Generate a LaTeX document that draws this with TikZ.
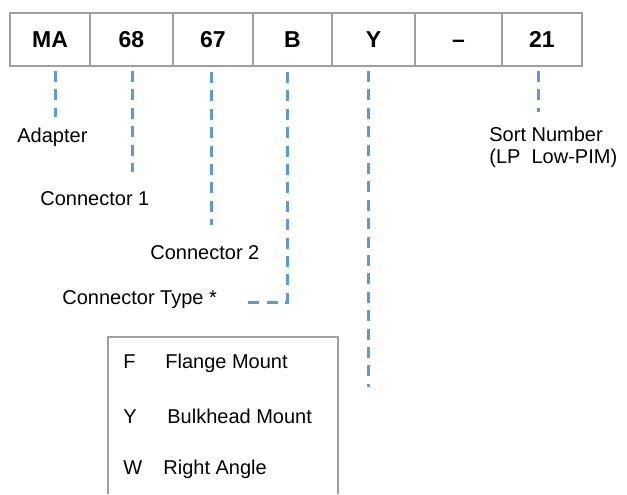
\documentclass[tikz,border=0pt]{standalone}
\usepackage{fontspec}
\setmainfont{Liberation Sans}
\usepackage{tikz}
\usetikzlibrary{matrix}

\definecolor{boxgray}{RGB}{160,160,160}
\definecolor{lineblue}{RGB}{91,155,213}

\tikzset{
  dashline/.style={draw=lineblue,line width=1.5pt,dash pattern=on 5.5pt off 3.7pt},
  lbl/.style={anchor=west,inner sep=0pt,text height=7.2pt,text depth=2pt,
              font=\fontsize{10}{12}\selectfont},
}

\begin{document}
\begin{tikzpicture}[x=0.5pt,y=-0.5pt]
  \useasboundingbox (0,0) rectangle (627,494);

  % part number boxes
  \matrix(P)[matrix of nodes,anchor=north west,inner sep=0pt,line width=1pt,
             row sep=-\pgflinewidth,column sep=-\pgflinewidth,
             nodes={rectangle,draw=boxgray,line width=1pt,anchor=center,inner sep=1pt,
                    text height=8.3pt,text depth=0pt,
                    minimum height=26.5pt,font=\bfseries\fontsize{11.5}{13}\selectfont},
             column 1/.style={minimum width=40pt},
             column 2/.style={minimum width=41.5pt},
             column 3/.style={minimum width=40pt},
             column 4/.style={minimum width=39.5pt},
             column 5/.style={minimum width=41.5pt},
             column 6/.style={minimum width=43.5pt},
             column 7/.style={minimum width=40pt},
            ] at (8,11)
  {
    MA & 68 & 67 & B & Y & \textendash & 21 \\
  };

  % line ends
  \coordinate (adapterEnd) at (55,117);
  \coordinate (conOneEnd) at (132,172);
  \coordinate (conTwoEnd) at (211,225);
  \coordinate (typeCorner) at (287,302);
  \coordinate (typeEnd) at (245,302);
  \coordinate (mountEnd) at (368,387);
  \coordinate (sortEnd) at (538,112);

  \draw[dashline] (P-1-1.south -| adapterEnd) ++(0,4) -- (adapterEnd);
  \draw[dashline] (P-1-2.south -| conOneEnd) ++(0,4) -- (conOneEnd);
  \draw[dashline] (P-1-3.south -| conTwoEnd) ++(0,5) -- (conTwoEnd);
  \draw[dashline] (P-1-4.south -| typeCorner) ++(0,5) -- (typeCorner) -- (typeEnd);
  \draw[dashline] (P-1-5.south -| mountEnd) ++(0,4) -- (mountEnd);
  \draw[dashline] (P-1-7.south -| sortEnd) ++(0,4) -- (sortEnd);

  % labels
  \node[lbl] (adapter) at (17,137) {Adapter};
  \node[lbl] (conOne) at (40,200) {Connector 1};
  \node[lbl] (conTwo) at (150,254) {Connector 2};
  \node[lbl] (conType) at (62,299) {Connector Type *};
  \node[lbl] (sortA) at (489,136) {Sort Number};
  \node[lbl] (sortB) at (489,158) {(LP\ \ Low-PIM)};

  % mount type table
  \draw[boxgray,line width=1pt] (108,494) -- (108,337) -- (338,337) -- (338,494);
  \node[lbl] (kF) at (123,363) {F};
  \node[lbl] (dF) at (165,363) {Flange Mount};
  \node[lbl] (kY) at (123,418) {Y};
  \node[lbl] (dY) at (167,418) {Bulkhead Mount};
  \node[lbl] (kW) at (123,469) {W};
  \node[lbl] (dW) at (163,469) {Right Angle};
\end{tikzpicture}
\end{document}
